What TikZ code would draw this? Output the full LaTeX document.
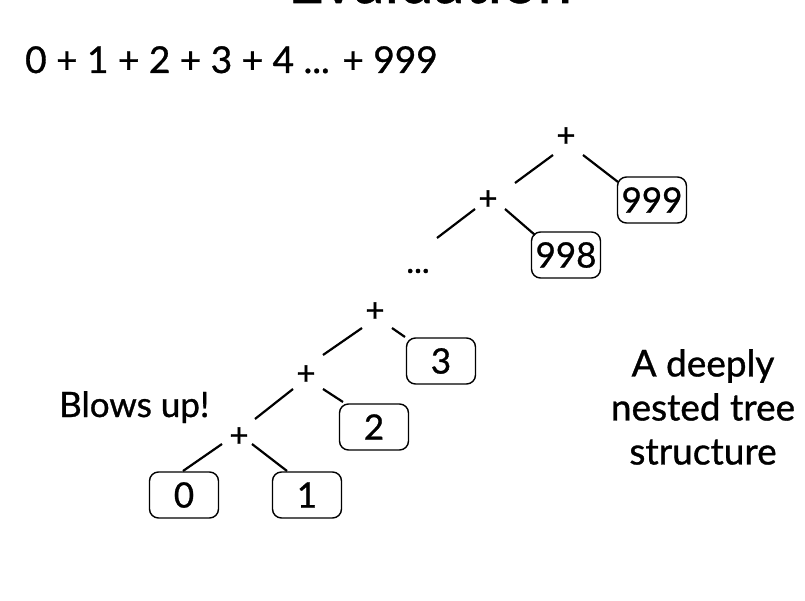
\documentclass[tikz,border=0pt]{standalone}
\usepackage{fontspec}
\setmainfont{Lato}[FakeBold=0.9]
\usetikzlibrary{calc}
\tikzset{
  numbox/.style={draw, line width=1.4pt, rounded corners=9pt, minimum width=69pt, minimum height=46pt, inner sep=0pt, font=\fontsize{35}{40}\selectfont},
  plusnode/.style={inner sep=0pt, font=\fontsize{33}{35}\selectfont},
  edge/.style={line width=2.2pt},
  bigtext/.style={inner sep=0pt, font=\fontsize{37}{44}\selectfont},
}
\begin{document}
\begin{tikzpicture}[x=1pt, y=-1pt]
\useasboundingbox (0,0) rectangle (805,601);
% title (mostly cut off)
\node[inner sep=0pt, anchor=base, font=\fontsize{62}{64}\selectfont] (title) at (430,3) {Evaluation};
% expression
\node[bigtext, anchor=base west] (expr) at (25,73) {0 + 1 + 2 + 3 + 4 ... + 999};
% tree nodes
\node[plusnode] (P1) at (566,137) {+};
\node[plusnode] (P2) at (488,200) {+};
\node[plusnode] (DOTS) at (418,271) {...};
\node[plusnode] (P3) at (375,312) {+};
\node[plusnode] (P4) at (306,375) {+};
\node[plusnode] (P5) at (239,437) {+};
\node[numbox] (B999) at (652,200) {999};
\node[numbox] (B998) at (566,255) {998};
\node[numbox] (B3) at (441,361) {3};
\node[numbox] (B2) at (374,427) {2};
\node[numbox] (B0) at (184,495) {0};
\node[numbox] (B1) at (307,495) {1};
% edges
\draw[edge] ($(P1)+(-13,18)$) -- ($(P2)+(27,-17)$);
\draw[edge] ($(P1)+(17,18)$) -- ($(B999)+(-34,-18)$);
\draw[edge] ($(P2)+(-13,9)$) -- ($(DOTS)+(19,-33)$);
\draw[edge] ($(P2)+(17,9)$) -- ($(B998)+(-31,-20)$);
\draw[edge] ($(P3)+(-13,16)$) -- ($(P4)+(17,-20)$);
\draw[edge] ($(P3)+(17,16)$) -- ($(B3)+(-36,-24)$);
\draw[edge] ($(P4)+(-13,14)$) -- ($(P5)+(16,-18)$);
\draw[edge] ($(P4)+(17,14)$) -- ($(B2)+(-31,-25)$);
\draw[edge] ($(P5)+(-17,7)$) -- ($(B0)+(-1,-24)$);
\draw[edge] ($(P5)+(13,7)$) -- ($(B1)+(-20,-24)$);
% labels
\node[bigtext, anchor=base west, font=\fontsize{35}{40}\selectfont] (blows) at (59,417) {Blows up!};
\node[bigtext, align=center, font=\fontsize{37}{44}\selectfont] (desc) at (703,407) {A deeply\\nested tree\\structure};
\end{tikzpicture}
\end{document}
